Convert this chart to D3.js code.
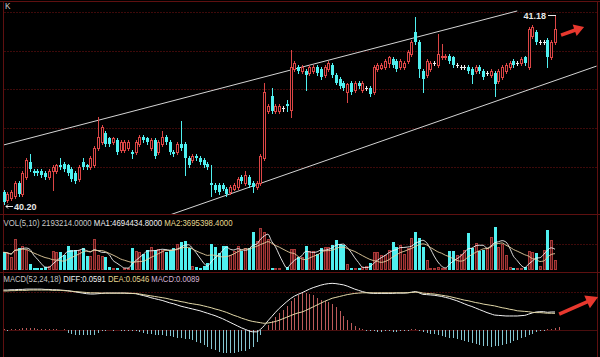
<!DOCTYPE html>
<html><head><meta charset="utf-8">
<script src="https://cdn.jsdelivr.net/npm/d3@7"></script>
<style>html,body{margin:0;padding:0;background:#000;overflow:hidden}svg{display:block}</style>
</head><body>
<svg id="c" width="600" height="357"></svg>
<script>
// ---- data ----
const openP = [40.26,40.22,40.23,40.24,40.31,40.25,40.34,40.42,40.37,40.37,40.37,40.36,40.34,40.37,40.37,40.40,40.41,40.40,40.38,40.36,40.33,40.42,40.40,40.39,40.40,40.49,40.52,40.57,40.54,40.52,40.53,40.48,40.48,40.49,40.47,40.47,40.51,40.55,40.54,40.49,40.53,40.47,40.51,40.55,40.52,40.47,40.47,40.51,40.51,40.44,40.43,40.45,40.44,40.43,40.41,40.31,40.30,40.30,40.30,40.28,40.26,40.28,40.29,40.34,40.31,40.34,40.31,40.29,40.31,40.44,40.68,40.76,40.68,40.68,40.70,40.72,40.69,40.90,40.91,40.89,40.89,40.88,40.89,40.91,40.90,40.87,40.90,40.92,40.87,40.85,40.83,40.78,40.83,40.79,40.83,40.79,40.80,40.80,40.78,40.90,40.905,40.91,40.93,40.95,40.94,40.91,40.91,40.94,40.98,41.09,41.04,40.89,40.87,40.90,40.93,40.92,40.96,40.96,40.97,40.96,40.92,40.91,40.91,40.91,40.90,40.89,40.91,40.89,40.88,40.87,40.88,40.84,40.86,40.89,40.91,40.94,40.93,40.93,40.96,40.91,41.07,41.09,41.04,41.04,41.05,40.96,41.04];
const closeP = [40.21,40.25,40.26,40.31,40.25,40.36,40.43,40.38,40.36,40.36,40.35,40.34,40.37,40.39,40.40,40.39,40.38,40.36,40.33,40.32,40.39,40.39,40.39,40.44,40.49,40.55,40.60,40.51,40.51,40.54,40.47,40.52,40.52,40.52,40.46,40.52,40.55,40.53,40.52,40.53,40.45,40.52,40.55,40.52,40.47,40.46,40.51,40.49,40.44,40.40,40.45,40.44,40.42,40.40,40.39,40.30,40.27,40.26,40.28,40.25,40.29,40.30,40.33,40.32,40.35,40.30,40.29,40.31,40.45,40.78,40.71,40.68,40.71,40.71,40.70,40.71,40.91,40.93,40.89,40.91,40.87,40.91,40.91,40.88,40.86,40.91,40.93,40.87,40.83,40.81,40.80,40.82,40.78,40.83,40.81,40.83,40.80,40.77,40.91,40.92,40.92,40.94,40.96,40.92,40.90,40.94,40.93,40.99,41.04,41.04,40.90,40.85,40.94,40.93,40.93,40.98,40.97,40.97,40.94,40.92,40.92,40.91,40.91,40.89,40.87,40.91,40.89,40.86,40.88,40.89,40.82,40.89,40.91,40.92,40.93,40.92,40.93,40.95,40.93,41.11,41.12,41.04,41.04,41.04,40.96,41.04,41.11];
const highP = [40.27,40.26,40.27,40.32,40.32,40.37,40.44,40.46,40.38,40.38,40.38,40.37,40.38,40.40,40.41,40.44,40.42,40.41,40.39,40.37,40.40,40.44,40.41,40.45,40.50,40.65,40.61,40.58,40.55,40.55,40.54,40.53,40.53,40.53,40.48,40.53,40.56,40.56,40.55,40.54,40.54,40.53,40.58,40.56,40.53,40.48,40.52,40.63,40.52,40.45,40.46,40.46,40.45,40.44,40.42,40.40,40.31,40.31,40.31,40.29,40.30,40.31,40.34,40.35,40.37,40.35,40.32,40.32,40.46,40.83,40.72,40.80,40.72,40.72,40.71,40.74,41.00,40.94,40.92,40.92,40.90,40.92,40.92,40.92,40.91,40.92,40.94,40.93,40.88,40.86,40.84,40.83,40.84,40.84,40.84,40.84,40.81,40.81,40.92,40.93,40.93,40.95,40.97,40.96,40.95,40.95,40.94,41.00,41.05,41.17,41.05,40.90,40.95,40.94,40.94,41.08,41.03,40.98,40.98,40.97,40.93,40.92,40.92,40.92,40.91,40.92,40.92,40.90,40.89,40.90,40.89,40.90,40.92,40.93,40.94,40.95,40.94,40.96,40.97,41.12,41.13,41.10,41.05,41.05,41.06,41.05,41.18];
const lowP = [40.20,40.21,40.22,40.23,40.24,40.24,40.33,40.37,40.35,40.35,40.34,40.33,40.33,40.27,40.36,40.38,40.37,40.35,40.32,40.31,40.32,40.38,40.38,40.38,40.39,40.48,40.51,40.50,40.50,40.51,40.46,40.47,40.47,40.48,40.44,40.46,40.50,40.52,40.51,40.48,40.44,40.46,40.50,40.51,40.46,40.45,40.46,40.48,40.35,40.39,40.42,40.43,40.41,40.39,40.38,40.24,40.26,40.25,40.27,40.24,40.25,40.27,40.28,40.31,40.30,40.29,40.26,40.28,40.30,40.43,40.67,40.67,40.67,40.67,40.68,40.68,40.65,40.89,40.88,40.88,40.79,40.87,40.88,40.87,40.85,40.86,40.89,40.86,40.82,40.80,40.79,40.73,40.77,40.78,40.80,40.78,40.79,40.76,40.77,40.89,40.90,40.90,40.91,40.91,40.89,40.90,40.90,40.93,40.97,41.03,40.86,40.78,40.86,40.89,40.92,40.91,40.95,40.95,40.93,40.91,40.91,40.90,40.90,40.88,40.83,40.88,40.88,40.85,40.87,40.86,40.76,40.83,40.85,40.88,40.90,40.91,40.92,40.92,40.92,40.90,41.06,41.03,41.03,41.03,40.91,40.95,41.03];
// volume, millions of shares
const volume = [4.0,3.8,3.0,7.0,5.0,5.4,4.5,1.4,0.5,0.4,0.4,0.6,1.0,4.2,4.1,4.0,3.4,5.4,4.5,4.5,4.5,5.0,3.2,3.2,7.0,3.4,3.2,3.0,0.7,0.5,0.4,0.3,0.4,0.5,5.0,4.3,4.1,3.6,4.5,5.2,4.5,4.8,4.5,4.1,4.5,4.9,5.8,6.4,6.6,4.9,1.0,0.6,0.5,0.8,1.5,5.9,5.1,3.9,5.5,5.5,3.5,4.2,5.5,4.2,4.9,4.9,8.7,6.5,9.6,8.7,7.0,0.5,0.5,0.4,0.3,0.6,4.8,4.8,3.0,3.0,5.5,4.2,4.2,3.6,5.0,5.3,5.3,5.7,6.8,5.8,5.7,1.4,0.5,0.4,0.4,0.6,0.8,1.5,4.1,4.1,3.4,3.4,4.5,6.4,5.3,5.7,3.6,5.0,7.3,8.7,7.3,5.3,2.3,0.5,0.4,0.6,0.5,0.4,4.2,4.2,3.3,3.6,4.5,8.4,4.9,6.0,4.2,4.5,4.9,7.4,9.8,5.3,5.8,3.4,0.6,0.5,0.4,0.5,0.76,4.4,4.0,3.8,0.9,4.5,9.1,6.8,2.193214];
const diffV = [0.131,0.131,0.132,0.132,0.133,0.133,0.134,0.134,0.134,0.134,0.134,0.133,0.133,0.132,0.132,0.131,0.130,0.129,0.127,0.125,0.123,0.121,0.119,0.118,0.118,0.119,0.120,0.121,0.121,0.121,0.121,0.121,0.121,0.120,0.120,0.119,0.116,0.113,0.110,0.106,0.103,0.100,0.097,0.093,0.089,0.086,0.082,0.078,0.075,0.072,0.069,0.066,0.063,0.059,0.055,0.051,0.047,0.042,0.037,0.031,0.025,0.019,0.013,0.007,0.002,-0.003,-0.006,-0.006,0.002,0.014,0.030,0.044,0.058,0.071,0.082,0.093,0.103,0.111,0.117,0.122,0.128,0.134,0.139,0.143,0.147,0.150,0.152,0.153,0.152,0.150,0.148,0.144,0.139,0.134,0.130,0.126,0.123,0.121,0.120,0.120,0.120,0.120,0.120,0.120,0.121,0.121,0.121,0.122,0.124,0.126,0.122,0.117,0.116,0.115,0.114,0.112,0.110,0.107,0.104,0.100,0.096,0.091,0.086,0.081,0.077,0.072,0.067,0.062,0.057,0.053,0.049,0.048,0.047,0.046,0.046,0.046,0.046,0.047,0.048,0.052,0.056,0.059,0.060,0.060,0.058,0.059,0.0591];
const deaV = [0.128,0.128,0.129,0.129,0.130,0.130,0.130,0.131,0.131,0.131,0.131,0.131,0.131,0.130,0.130,0.130,0.129,0.128,0.127,0.126,0.125,0.124,0.123,0.122,0.122,0.122,0.121,0.121,0.121,0.121,0.121,0.121,0.121,0.121,0.120,0.120,0.118,0.116,0.114,0.112,0.110,0.108,0.106,0.104,0.101,0.098,0.096,0.093,0.091,0.088,0.086,0.084,0.082,0.079,0.076,0.073,0.069,0.066,0.062,0.058,0.053,0.048,0.044,0.039,0.035,0.031,0.028,0.026,0.024,0.022,0.023,0.025,0.028,0.032,0.037,0.042,0.047,0.052,0.056,0.059,0.064,0.070,0.076,0.082,0.088,0.094,0.099,0.104,0.107,0.110,0.113,0.116,0.118,0.120,0.121,0.122,0.122,0.122,0.122,0.122,0.122,0.122,0.122,0.122,0.122,0.122,0.122,0.122,0.123,0.124,0.124,0.121,0.120,0.119,0.118,0.116,0.114,0.112,0.110,0.107,0.104,0.101,0.098,0.096,0.093,0.090,0.088,0.085,0.083,0.081,0.079,0.076,0.073,0.071,0.068,0.066,0.063,0.062,0.061,0.060,0.058,0.057,0.057,0.056,0.055,0.055,0.0546];
const macdV = [0.002,-0.002,0.003,0.002,0.003,0.005,0.006,0.006,0.005,0.004,0.004,0.003,0.002,0.003,0.002,0.001,0.002,-0.010,-0.013,-0.015,-0.016,-0.017,-0.018,-0.017,-0.015,-0.010,-0.004,-0.002,-0.001,-0.002,-0.001,-0.002,-0.003,-0.002,-0.003,-0.004,-0.008,-0.010,-0.012,-0.013,-0.015,-0.016,-0.018,-0.020,-0.021,-0.023,-0.025,-0.026,-0.028,-0.031,-0.034,-0.038,-0.043,-0.048,-0.055,-0.061,-0.067,-0.071,-0.074,-0.075,-0.075,-0.074,-0.072,-0.070,-0.068,-0.063,-0.055,-0.040,-0.016,0.000,0.016,0.030,0.043,0.055,0.066,0.080,0.094,0.106,0.115,0.121,0.121,0.119,0.115,0.105,0.098,0.095,0.092,0.085,0.077,0.062,0.045,0.034,0.024,0.014,0.007,0.002,-0.003,-0.004,-0.004,-0.005,-0.005,-0.004,-0.004,-0.005,-0.005,-0.004,-0.003,-0.002,0.003,0.004,-0.004,-0.008,-0.010,-0.012,-0.014,-0.016,-0.019,-0.022,-0.025,-0.027,-0.030,-0.033,-0.036,-0.039,-0.042,-0.045,-0.048,-0.051,-0.053,-0.055,-0.054,-0.052,-0.049,-0.045,-0.042,-0.037,-0.032,-0.027,-0.022,-0.017,-0.012,-0.006,-0.003,-0.002,0.002,0.004,0.006,0.0089];
const maxLabel = "41.18";
const minLabel = "40.20";
const volHeader = ["VOL(5,10) 2193214.0000", "MA1:4694434.8000", "MA2:3695398.4000"];
const macdHeader = ["MACD(52,24,18)", "DIFF:0.0591", "DEA:0.0546", "MACD:0.0089"];
const volMaPeriods = [5, 10];
// trend channel anchors [index, price]
const upperChannel = [[0, 40.506], [136, 41.201]];
const lowerChannel = [[44, 40.143], [157, 40.915]];
// annotation arrows [index, value]
const priceArrow = [[147.6, 41.076], [153.7, 41.118]];
const macdArrow = [[147.1, 0.052], [157.4, 0.108]];

// ---- drawing ----
const RED = "#dc4646", CYAN = "#4ff0f0", FRAME = "#5e1010", GRID = "#3e0a0a";
const svg = d3.select("#c");
svg.append("rect").attr("width", 600).attr("height", 357).attr("fill", "#000");

const x = d3.scaleLinear().domain([0, 146]).range([3.5, 555]);
const yP = d3.scaleLinear().domain([40.20, 41.18]).range([204, 15]);
const yV = d3.scaleLinear().domain([0, 10]).range([270, 225.8]);
const yM = d3.scaleLinear().domain([0, 0.1]).range([330, 299.5]);

const grid = svg.append("g").attr("shape-rendering", "crispEdges");
[12, 50.5, 89, 128, 167, 244, 292].forEach(y => grid.append("line").attr("x1", 4).attr("x2", 597).attr("y1", Math.round(y) + 0.5).attr("y2", Math.round(y) + 0.5).attr("stroke", GRID).attr("stroke-dasharray", "2,1"));
grid.append("line").attr("x1", 4).attr("x2", 597).attr("y1", Math.round(yM(0)) + 0.5).attr("y2", Math.round(yM(0)) + 0.5).attr("stroke", "#4a0e0e");
// frame
[[0, 1, 600, 1], [0, 214, 600, 214], [0, 272, 600, 272]].forEach(d => grid.append("line").attr("x1", d[0]).attr("x2", d[2]).attr("y1", d[1] + 0.5).attr("y2", d[3] + 0.5).attr("stroke", FRAME));
[3, 597].forEach(xx => grid.append("line").attr("x1", xx + 0.5).attr("x2", xx + 0.5).attr("y1", 1).attr("y2", 357).attr("stroke", FRAME));

// clip for main panel
svg.append("clipPath").attr("id", "mainClip").append("rect").attr("x", 4).attr("y", 2).attr("width", 593).attr("height", 212);

// channel lines
const chan = svg.append("g").attr("clip-path", "url(#mainClip)");
[upperChannel, lowerChannel].forEach(c => chan.append("line")
  .attr("x1", x(c[0][0])).attr("y1", yP(c[0][1])).attr("x2", x(c[1][0])).attr("y2", yP(c[1][1]))
  .attr("stroke", "#d4d4d4").attr("stroke-width", 1));

// candles
const cg = svg.append("g").attr("shape-rendering", "crispEdges");
openP.forEach((o, i) => {
  const c = closeP[i], h = highP[i], l = lowP[i];
  const cx = Math.round(x(i));
  const yo = Math.round(yP(o)), yc = Math.round(yP(c)), yh = Math.round(yP(h)), yl = Math.round(yP(l));
  const top = Math.min(yo, yc), bot = Math.max(yo, yc);
  if (Math.abs(c - o) < 0.004) {
    cg.append("line").attr("x1", cx + 0.5).attr("x2", cx + 0.5).attr("y1", yh).attr("y2", yl + 1).attr("stroke", "#eeeeee");
    cg.append("line").attr("x1", cx - 1).attr("x2", cx + 2).attr("y1", yo + 0.5).attr("y2", yo + 0.5).attr("stroke", "#eeeeee");
  } else if (c > o) {
    if (yh < top) cg.append("line").attr("x1", cx + 0.5).attr("x2", cx + 0.5).attr("y1", yh).attr("y2", top).attr("stroke", RED);
    if (yl > bot) cg.append("line").attr("x1", cx + 0.5).attr("x2", cx + 0.5).attr("y1", bot + 1).attr("y2", yl + 1).attr("stroke", RED);
    cg.append("rect").attr("x", cx - 0.5).attr("y", top + 0.5).attr("width", 2).attr("height", Math.max(bot - top, 1))
      .attr("fill", "#000").attr("stroke", RED);
  } else {
    cg.append("line").attr("x1", cx + 0.5).attr("x2", cx + 0.5).attr("y1", yh).attr("y2", yl + 1).attr("stroke", CYAN);
    cg.append("rect").attr("x", cx - 1).attr("y", top).attr("width", 3).attr("height", Math.max(bot - top, 1)).attr("fill", CYAN);
  }
});

// max / min labels
const iMax = d3.maxIndex(highP), iMin = d3.minIndex(lowP);
const lab = svg.append("g").attr("font-family", "Liberation Sans, Arial, sans-serif").attr("font-size", 9).attr("font-weight", "bold").attr("fill", "#e8e8e8");
const mx = Math.round(x(iMax)), my = Math.round(yP(highP[iMax]));
lab.append("line").attr("x1", mx - 7).attr("x2", mx + 0.5).attr("y1", my + 0.5).attr("y2", my + 0.5).attr("stroke", "#e8e8e8").attr("shape-rendering", "crispEdges");
lab.append("text").attr("x", mx - 9).attr("y", my + 4).attr("text-anchor", "end").text(maxLabel);
const nx = Math.round(x(iMin)), ny = Math.round(yP(lowP[iMin])) + 2;
lab.append("path").attr("d", `M${nx + 9},${ny + 0.5}H${nx + 2}M${nx + 4},${ny - 1.5}L${nx + 2},${ny + 0.5}L${nx + 4},${ny + 2.5}`).attr("stroke", "#e8e8e8").attr("fill", "none");
lab.append("text").attr("x", nx + 10).attr("y", ny + 4).text(minLabel);

// volume bars
const vg = svg.append("g").attr("shape-rendering", "crispEdges");
volume.forEach((v, i) => {
  const cx = Math.round(x(i));
  const t = Math.round(yV(v)), b = Math.round(yV(0));
  if (closeP[i] >= openP[i]) {
    vg.append("rect").attr("x", cx - 0.5).attr("y", t + 0.5).attr("width", 2).attr("height", Math.max(b - t - 1, 0))
      .attr("fill", "#4a1414").attr("stroke", "#a83838");
  } else {
    vg.append("rect").attr("x", cx - 1).attr("y", t).attr("width", 3).attr("height", b - t).attr("fill", CYAN);
  }
});
// volume moving averages
const ma = (arr, n) => arr.map((_, i) => d3.mean(arr.slice(Math.max(0, i - n + 1), i + 1)));
const vLine = d3.line().x((d, i) => x(i)).y(d => yV(d)).curve(d3.curveMonotoneX);
svg.append("path").attr("d", vLine(ma(volume, volMaPeriods[0]))).attr("fill", "none").attr("stroke", "#f4f4f4").attr("stroke-width", 0.9);
svg.append("path").attr("d", vLine(ma(volume, volMaPeriods[1]))).attr("fill", "none").attr("stroke", "#e6cfa0").attr("stroke-width", 0.9);

// MACD histogram
const mg = svg.append("g").attr("shape-rendering", "crispEdges");
macdV.forEach((v, i) => {
  const cx = Math.round(x(i)) + 0.5;
  mg.append("line").attr("x1", cx).attr("x2", cx).attr("y1", Math.round(yM(0))).attr("y2", Math.round(yM(v)))
    .attr("stroke", v >= 0 ? "#bb5a5a" : "#86c6d2");
});
const mLine = d3.line().x((d, i) => x(i)).y(d => yM(d)).curve(d3.curveMonotoneX);
svg.append("path").attr("d", mLine(diffV)).attr("fill", "none").attr("stroke", "#f2f2f2").attr("stroke-width", 1);
svg.append("path").attr("d", mLine(deaV)).attr("fill", "none").attr("stroke", "#e2d8a8").attr("stroke-width", 1);

// headers
const hdr = svg.append("g").attr("font-family", "Liberation Sans, Arial, sans-serif").attr("font-size", 8.2);
hdr.append("text").attr("x", 5).attr("y", 9).attr("fill", "#d0d0d0").text("K");
const vt = hdr.append("text").attr("x", 3.5).attr("y", 225.5).attr("textLength", 229).attr("lengthAdjust", "spacingAndGlyphs");
const vcol = ["#c8c8c8", "#f0f0f0", "#e6d890"];
volHeader.forEach((s, k) => vt.append("tspan").attr("fill", vcol[k]).text((k ? " " : "") + s));
const mt = hdr.append("text").attr("x", 3.5).attr("y", 282).attr("textLength", 196).attr("lengthAdjust", "spacingAndGlyphs");
const mcol = ["#c8c8c8", "#f0f0f0", "#e6d890", "#d6b4d6"];
macdHeader.forEach((s, k) => mt.append("tspan").attr("fill", mcol[k]).text((k ? " " : "") + s));

// red arrows
function arrow(p0, p1, w, hw, hl) {
  const dx = p1[0] - p0[0], dy = p1[1] - p0[1], L = Math.hypot(dx, dy);
  const ux = dx / L, uy = dy / L, nx = -uy, ny = ux;
  const bx = p1[0] - ux * hl, by = p1[1] - uy * hl;
  const pts = [[p0[0] + nx * w / 2, p0[1] + ny * w / 2], [bx + nx * w / 2, by + ny * w / 2], [bx + nx * hw, by + ny * hw], p1,
    [bx - nx * hw, by - ny * hw], [bx - nx * w / 2, by - ny * w / 2], [p0[0] - nx * w / 2, p0[1] - ny * w / 2]];
  svg.append("path").attr("d", "M" + pts.map(p => p.join(",")).join("L") + "Z").attr("fill", "#e8382e");
}
arrow([x(priceArrow[0][0]), yP(priceArrow[0][1])], [x(priceArrow[1][0]), yP(priceArrow[1][1])], 3.5, 6, 10);
arrow([x(macdArrow[0][0]), yM(macdArrow[0][1])], [x(macdArrow[1][0]), yM(macdArrow[1][1])], 3.5, 7, 12);
</script>
</body></html>
